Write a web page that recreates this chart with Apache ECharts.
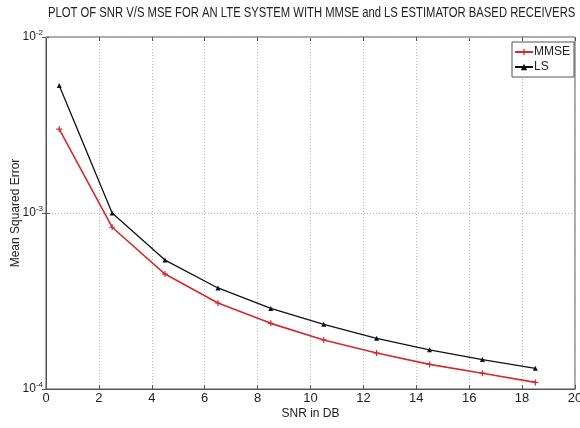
<!DOCTYPE html>
<html>
<head>
<meta charset="utf-8">
<script src="https://cdn.jsdelivr.net/npm/echarts@6/dist/echarts.min.js"></script>
<style>
  html, body { margin: 0; padding: 0; background: #fff; }
  #chart { width: 580px; height: 428px; }
</style>
</head>
<body>
<div id="chart"></div>
<script>
// SNR (dB) sample points
const snr = [0.5, 2.5, 4.5, 6.5, 8.5, 10.5, 12.5, 14.5, 16.5, 18.5];
// Mean squared error for each receiver
const mmse = [3.0e-3, 8.3e-4, 4.5e-4, 3.08e-4, 2.36e-4, 1.9e-4, 1.6e-4, 1.38e-4, 1.23e-4, 1.09e-4];
const ls = [5.3e-3, 1.0e-3, 5.4e-4, 3.75e-4, 2.87e-4, 2.33e-4, 1.94e-4, 1.67e-4, 1.47e-4, 1.31e-4];
// minor (2..9) log grid levels within each decade
const minorLevels = [2, 3, 4, 5, 6, 7, 8, 9];
const decades = [1e-4, 1e-3];

const gridVals = [];
decades.forEach(d => minorLevels.forEach(m => gridVals.push(+(m * d).toPrecision(3))));

const font = 'Liberation Sans';
const axisColor = '#555';
const dotted = { color: '#b8b8b8', type: [1, 2], width: 1 };

const chart = echarts.init(document.getElementById('chart'));
chart.setOption({
  animation: false,
  backgroundColor: '#fff',
  graphic: [{
    type: 'text', left: 48, top: 6, scaleX: 0.805,
    style: {
      text: 'PLOT OF SNR V/S MSE FOR AN LTE SYSTEM WITH MMSE and LS ESTIMATOR BASED RECEIVERS',
      font: '14px "Liberation Sans"', fill: '#222'
    }
  }],
  legend: {
    right: 6, top: 42,
    orient: 'vertical',
    backgroundColor: '#fff',
    borderColor: '#555', borderWidth: 1,
    padding: [4, 4, 4, 2],
    itemGap: 3, itemWidth: 18, itemHeight: 8,
    textStyle: { fontFamily: font, fontSize: 12, color: '#222', padding: [0, 0, 0, -4] },
    data: ['MMSE', 'LS']
  },
  grid: { left: 46, right: 5, top: 37, bottom: 39, outerBoundsMode: 'none', containLabel: false, show: true, borderColor: axisColor, borderWidth: 1 },
  xAxis: [{
    type: 'value', min: 0, max: 20, interval: 2,
    name: 'SNR in DB', nameLocation: 'middle', nameGap: 19, nameMoveOverlap: false,
    nameTextStyle: { fontFamily: font, fontSize: 12, color: '#222' },
    axisLine: { lineStyle: { color: axisColor } },
    axisTick: { inside: true, length: 4, lineStyle: { color: axisColor } },
    axisLabel: { fontFamily: font, fontSize: 13, color: '#222', margin: 3 },
    splitLine: { show: true, lineStyle: dotted }
  }, {
    type: 'value', min: 0, max: 20, interval: 2, position: 'top',
    axisLine: { show: false },
    axisTick: { inside: true, length: 4, lineStyle: { color: axisColor } },
    axisLabel: { show: false }, splitLine: { show: false }
  }],
  yAxis: [{
    type: 'log', logBase: 10, min: 1e-4, max: 1e-2,
    name: 'Mean Squared Error', nameLocation: 'middle', nameGap: 24, nameMoveOverlap: false,
    nameTextStyle: { fontFamily: font, fontSize: 12, color: '#222' },
    axisLine: { show: true, lineStyle: { color: axisColor } },
    axisTick: { inside: true, length: 4, lineStyle: { color: axisColor } },
    axisLabel: {
      margin: 3,
      formatter: v => '{b|10}{e|' + Math.round(Math.log10(v)) + '}',
      rich: {
        b: { fontFamily: font, fontSize: 12, color: '#222' },
        e: { fontFamily: font, fontSize: 8, color: '#222', verticalAlign: 'top', padding: [0, 0, 8, 0] }
      }
    },
    splitLine: { show: true, lineStyle: dotted }
  }, {
    type: 'log', logBase: 10, min: 1e-4, max: 1e-2, position: 'right',
    axisLine: { show: false },
    axisTick: { inside: true, length: 4, lineStyle: { color: axisColor } },
    axisLabel: { show: false }, splitLine: { show: false }
  }],
  series: [{
    name: 'MMSE', type: 'line',
    data: snr.map((x, i) => [x, mmse[i]]),
    symbol: 'path://M-1,-5h2v4h4v2h-4v4h-2v-4h-4v-2h4z', symbolSize: 6,
    color: '#d42a2a',
    lineStyle: { width: 1.6, color: '#d42a2a' },
    itemStyle: { color: '#d42a2a' },
    z: 3,
    markLine: {
      silent: true, symbol: 'none', label: { show: false },
      lineStyle: dotted, z: 1,
      data: gridVals.map(v => ({ yAxis: v }))
    }
  }, {
    name: 'LS', type: 'line',
    data: snr.map((x, i) => [x, ls[i]]),
    symbol: 'triangle', symbolSize: 5,
    color: '#111',
    lineStyle: { width: 1.3, color: '#111' },
    itemStyle: { color: '#111' },
    z: 4
  }]
});
</script>
</body>
</html>
